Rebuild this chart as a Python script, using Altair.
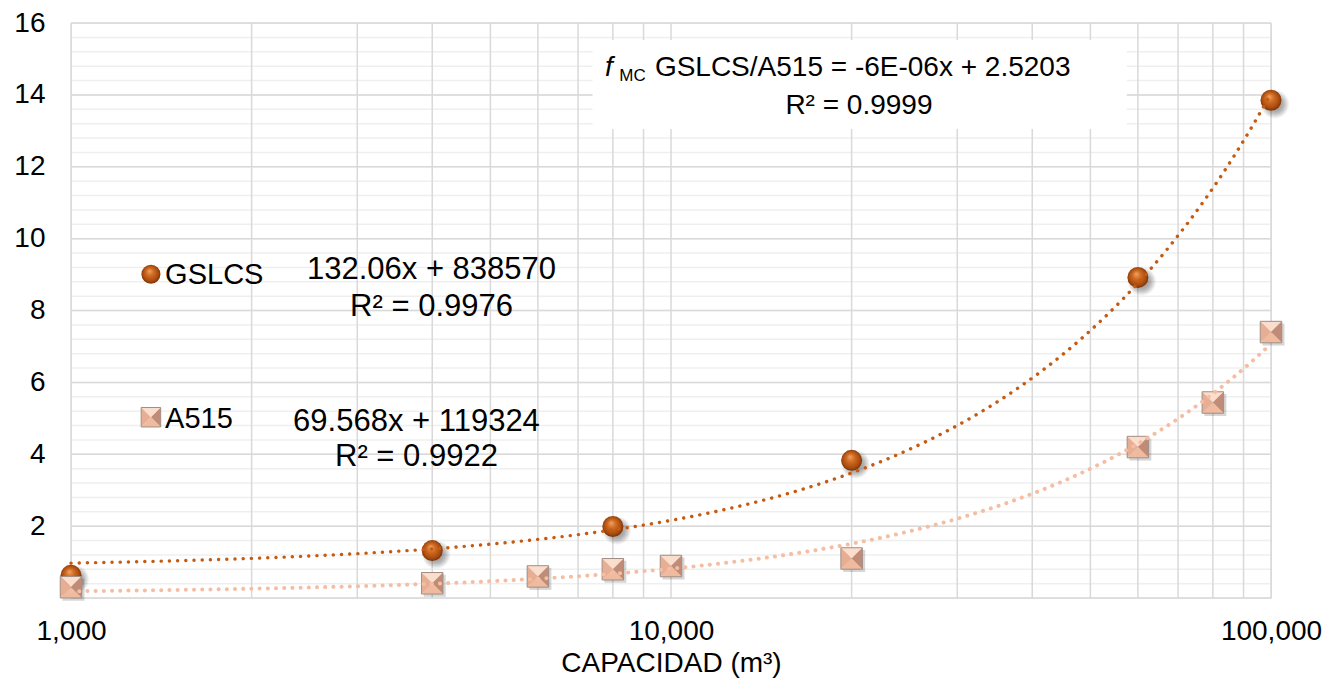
import altair as alt
import pandas as pd

# ---------------- data ----------------
gslcs_x = [1000, 4000, 8000, 20000, 60000, 100000]
gslcs_y = [0.63, 1.32, 1.99, 3.83, 8.92, 13.85]

a515_x = [1000, 4000, 6000, 8000, 10000, 20000, 60000, 80000, 100000]
a515_y = [0.30, 0.41, 0.60, 0.80, 0.89, 1.10, 4.20, 5.44, 7.40]

# linear trend lines printed on the chart (y = slope*x + intercept, in units of 1e-6)
trend_names = ["GSLCS", "A515"]
trend_slope = [132.06, 69.568]
trend_intercept = [838570, 119324]
trend_eq = ["132.06x + 838570", "69.568x + 119324"]
trend_r2 = ["R² = 0.9976", "R² = 0.9922"]

ratio_eq = "GSLCS/A515 = -6E-06x + 2.5203"
ratio_r2 = "R² = 0.9999"

# axis ticks / gridlines
x_labels = [1000, 10000, 100000]
x_grid = [1000, 2000, 3000, 4000, 5000, 6000, 7000, 8000, 9000,
          10000, 20000, 30000, 40000, 50000, 60000, 70000, 80000, 90000, 100000]
y_labels = [2, 4, 6, 8, 10, 12, 14, 16]
y_major = [0, 2, 4, 6, 8, 10, 12, 14, 16]
y_minor = [round(0.4 * i, 1) for i in range(41)]

FONT = "Liberation Sans"
xs = alt.Scale(type="log", domain=[1000, 100000], nice=False)
ys = alt.Scale(domain=[0, 16], nice=False)

x_axis = alt.Axis(
    values=x_labels, format=",", labelFontSize=28, labelColor="#000000",
    labelFont=FONT, labelPadding=19, ticks=False, domain=False, grid=False,
    labelFlush=False, title="CAPACIDAD (m³)", titleFont=FONT, titleFontSize=28,
    titleFontWeight="normal", titleColor="#000000", titlePadding=4)
y_axis = alt.Axis(
    values=y_labels, labelFontSize=28, labelColor="#000000", labelFont=FONT,
    labelPadding=26, ticks=False, domain=False, grid=False, title=None)


def X(field="x"):
    return alt.X(f"{field}:Q", scale=xs, axis=x_axis)


def Y(field="y"):
    return alt.Y(f"{field}:Q", scale=ys, axis=y_axis)


# ---------------- grid ----------------
minor_h = alt.Chart(pd.DataFrame({"y": y_minor})).mark_rule(
    color="#EFEFEF", strokeWidth=1.5
).encode(y=Y())

vert = alt.Chart(pd.DataFrame({"x": x_grid})).mark_rule(
    color="#D9D9D9", strokeWidth=1.5
).encode(x=X())

major_h = alt.Chart(pd.DataFrame({"y": y_major})).mark_rule(
    color="#D9D9D9", strokeWidth=1.5
).encode(y=Y())

# white box behind the ratio equation
box = alt.Chart(pd.DataFrame({"x": [7400], "x2": [57500], "y": [13.05], "y2": [15.53]})).mark_rect(
    fill="white"
).encode(x=X(), x2="x2:Q", y=Y(), y2="y2:Q")

# ---------------- markers ----------------
gdf = pd.DataFrame({"x": gslcs_x, "y": gslcs_y})
adf = pd.DataFrame({"x": a515_x, "y": a515_y})

sphere_fill = {
    "gradient": "radial", "x1": 0.42, "y1": 0.32, "r1": 0.0,
    "x2": 0.5, "y2": 0.5, "r2": 0.55,
    "stops": [
        {"offset": 0.0, "color": "#F2A466"},
        {"offset": 0.35, "color": "#D06C24"},
        {"offset": 0.75, "color": "#A94B0E"},
        {"offset": 1.0, "color": "#652804"},
    ],
}
shadow_fill = {
    "gradient": "radial", "x1": 0.5, "y1": 0.5, "r1": 0.0,
    "x2": 0.5, "y2": 0.5, "r2": 0.5,
    "stops": [
        {"offset": 0.0, "color": "rgba(0,0,0,0.5)"},
        {"offset": 0.6, "color": "rgba(0,0,0,0.28)"},
        {"offset": 1.0, "color": "rgba(0,0,0,0)"},
    ],
}


def sphere_layers(df, size):
    sh = alt.Chart(df).mark_point(
        shape="circle", filled=True, fill=shadow_fill, strokeWidth=0,
        size=size * 1.9, xOffset=4, yOffset=4, opacity=1
    ).encode(x=X(), y=Y())
    sp = alt.Chart(df).mark_point(
        shape="circle", filled=True, fill=sphere_fill, strokeWidth=0, size=size, opacity=1
    ).encode(x=X(), y=Y())
    return [sh, sp]


facets = [
    ("M-1,-1L1,-1L0,0Z", "#FBDDCC"),   # top
    ("M1,-1L1,1L0,0Z", "#C08C78"),     # right
    ("M1,1L-1,1L0,0Z", "#F0BA9E"),     # bottom
    ("M-1,1L-1,-1L0,0Z", "#E8AE94"),   # left
]


def pyramid_layers(df, size, shadow=True):
    out = []
    if shadow:
        out.append(alt.Chart(df).mark_point(
            shape="square", filled=True, fill="rgba(0,0,0,0.16)", strokeWidth=0,
            size=size * 1.05, xOffset=2.5, yOffset=2.5, opacity=1
        ).encode(x=X(), y=Y()))
    for path, col in facets:
        out.append(alt.Chart(df).mark_point(
            shape=path, filled=True, fill=col, strokeWidth=0, size=size, opacity=1
        ).encode(x=X(), y=Y()))
    out.append(alt.Chart(df).mark_point(
        shape="square", filled=False, stroke="#A08E86", strokeWidth=1, size=size, opacity=1
    ).encode(x=X(), y=Y()))
    return out


# ---------------- trend lines (from printed equations) ----------------
def trend(i, color, width):
    return alt.Chart(alt.sequence(3, 5.005, 0.01, as_="t")).transform_calculate(
        x="pow(10, datum.t)",
        y=f"({trend_slope[i]} * pow(10, datum.t) + {trend_intercept[i]}) / 1000000",
    ).mark_line(
        color=color, strokeWidth=width, strokeDash=[0.1, 8.1], strokeCap="round"
    ).encode(x=X(), y=Y(), order="t:Q")


# ---------------- annotations ----------------
legend_pos = pd.DataFrame({"x": [1359, 1359], "y": [9.01, 5.03]})
legend_txt = pd.DataFrame({"x": [1435, 1435], "y": [8.99, 4.98], "text": trend_names})
eq_txt = pd.DataFrame({
    "x": [3989, 3989, 3765, 3765],
    "y": [9.13, 8.10, 4.90, 3.92],
    "text": [trend_eq[0], trend_r2[0], trend_eq[1], trend_r2[1]],
})

legend_text_layer = alt.Chart(legend_txt).mark_text(
    align="left", baseline="middle", font=FONT, fontSize=29, color="#000000"
).encode(x=X(), y=Y(), text="text:N")

eq_layer = alt.Chart(eq_txt).mark_text(
    align="center", baseline="middle", font=FONT, fontSize=31, color="#000000"
).encode(x=X(), y=Y(), text="text:N")

f_layer = alt.Chart(pd.DataFrame({"x": [7760], "y": [14.76], "text": ["f"]})).mark_text(
    align="left", baseline="middle", font=FONT, fontSize=28, fontStyle="italic", color="#000000"
).encode(x=X(), y=Y(), text="text:N")
mc_layer = alt.Chart(pd.DataFrame({"x": [8200], "y": [14.52], "text": ["MC"]})).mark_text(
    align="left", baseline="middle", font=FONT, fontSize=17, color="#000000"
).encode(x=X(), y=Y(), text="text:N")
ratio_layer = alt.Chart(pd.DataFrame({"x": [9400], "y": [14.76], "text": [ratio_eq]})).mark_text(
    align="left", baseline="middle", font=FONT, fontSize=28, color="#000000"
).encode(x=X(), y=Y(), text="text:N")
ratio_r2_layer = alt.Chart(pd.DataFrame({"x": [20570], "y": [13.69], "text": [ratio_r2]})).mark_text(
    align="center", baseline="middle", font=FONT, fontSize=28, color="#000000"
).encode(x=X(), y=Y(), text="text:N")

layers = (
    [minor_h, vert, major_h, box, f_layer, mc_layer, ratio_layer, ratio_r2_layer]
    + sphere_layers(gdf, 441)
    + pyramid_layers(adf, 462)
    + [trend(0, "#C55A11", 3.4), trend(1, "#F5BEA3", 4.0)]
    + sphere_layers(pd.DataFrame({"x": [legend_pos["x"][0]], "y": [legend_pos["y"][0]]}), 361)[1:]
    + pyramid_layers(pd.DataFrame({"x": [legend_pos["x"][1]], "y": [legend_pos["y"][1]]}), 380, shadow=False)
    + [legend_text_layer, eq_layer]
)

chart = alt.layer(*layers).properties(
    width=1200,
    height=575,
    padding={"left": 63, "top": 15, "right": 64, "bottom": 85},
    autosize=alt.AutoSizeParams(type="none"),
    background="white",
).configure_view(stroke=None).configure(font=FONT)

chart.save("out.html", embed_options={"renderer": "svg", "actions": False})
